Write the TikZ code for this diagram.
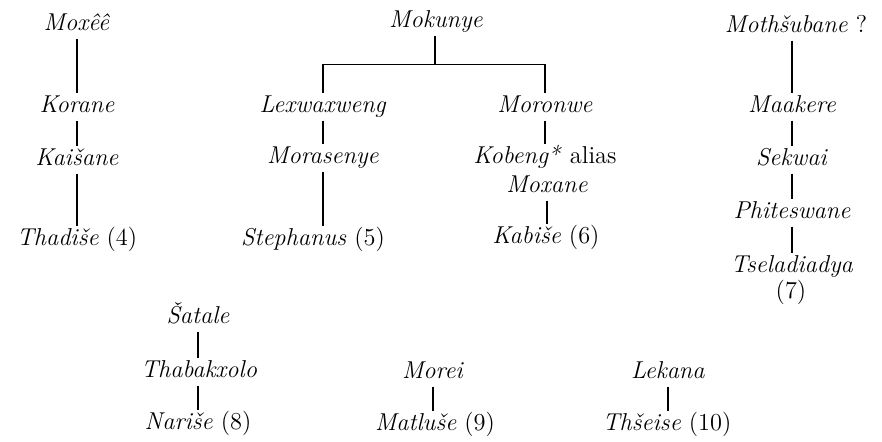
\documentclass[tikz,border=0pt]{standalone}
\usepackage{fontspec}
\begin{document}
\begin{tikzpicture}[x=0.5pt,y=-0.5pt,
  nm/.style={inner sep=0pt,text height=7.5pt,text depth=2.2pt,font=\fontsize{12.2}{14}\selectfont},
  ln/.style={line width=0.65pt,shorten <=1.8pt,shorten >=1.8pt},
  bar/.style={line width=0.35pt}]
\useasboundingbox (0,0) rectangle (882,442);
% tree 1
\node[nm] (moxee) at (77,25) {\textit{Moxêê}};
\node[nm] (korane) at (77,107) {\textit{Korane}};
\node[nm] (kaisane) at (77,160) {\textit{Kaišane}};
\node[nm] (thadise) at (77,240) {\textit{Thadiše} (4)};
\draw[ln] (moxee) -- (korane);
\draw[ln] (korane) -- (kaisane);
\draw[ln] (kaisane) -- (thadise);
% tree 2
\node[nm] (mokunye) at (436,22) {\textit{Mokunye}};
\coordinate (barL) at (323,64);
\coordinate (barR) at (545,64);
\node[nm] (lex) at (323,107) {\textit{Lexwaxweng}};
\node[nm] (moras) at (323,158) {\textit{Morasenye}};
\node[nm] (steph) at (313,240) {\textit{Stephanus} (5)};
\node[nm] (moronwe) at (545,107) {\textit{Moronwe}};
\node[nm] (kobeng) at (545,158) {\textit{Kobeng*} alias};
\node[nm] (moxane) at (547,187) {\textit{Moxane}};
\node[nm] (kabise) at (546,238) {\textit{Kabiše} (6)};
\draw[ln,shorten >=0pt] (mokunye.south -| 435,0) -- (435,64);
\draw[bar] (barL) -- (barR);
\draw[ln,shorten <=0pt] (barL) -- (lex.north);
\draw[ln,shorten <=0pt] (barR) -- (moronwe.north);
\draw[ln] (lex) -- (moras);
\draw[ln] (moras.south) -- (moras.south |- steph.north);
\draw[ln] (moronwe) -- (moronwe |- kobeng.north);
\draw[ln] (moxane) -- (moxane |- kabise.north);
% tree 3
\node[nm] (moth) at (796,27) {\textit{Mothšubane} ?};
\node[nm] (maakere) at (792,107) {\textit{Maakere}};
\node[nm] (sekwai) at (792,160) {\textit{Sekwai}};
\node[nm] (phit) at (792,213) {\textit{Phiteswane}};
\node[nm] (tsel) at (792,267) {\textit{Tseladiadya}};
\node[nm] (t7) at (791,293) {(7)};
\draw[ln] (maakere.north |- moth.south) -- (maakere.north);
\draw[ln] (maakere) -- (sekwai);
\draw[ln] (sekwai) -- (phit);
\draw[ln] (phit) -- (tsel);
% tree 4
\node[nm] (satale) at (198,318) {\textit{Šatale}};
\node[nm] (thab) at (199,372) {\textit{Thabakxolo}};
\node[nm] (narise) at (198,424) {\textit{Nariše} (8)};
\draw[ln] (satale) -- (satale |- thab.north);
\draw[ln] (satale |- thab.south) -- (narise);
% tree 5
\node[nm] (morei) at (433,373) {\textit{Morei}};
\node[nm] (matluse) at (435,425) {\textit{Matluše} (9)};
\draw[ln] (morei) -- (morei |- matluse.north);
% tree 6
\node[nm] (lekana) at (668,373) {\textit{Lekana}};
\node[nm] (thseise) at (667,425) {\textit{Thšeise} (10)};
\draw[ln] (lekana) -- (lekana |- thseise.north);
\end{tikzpicture}
\end{document}
